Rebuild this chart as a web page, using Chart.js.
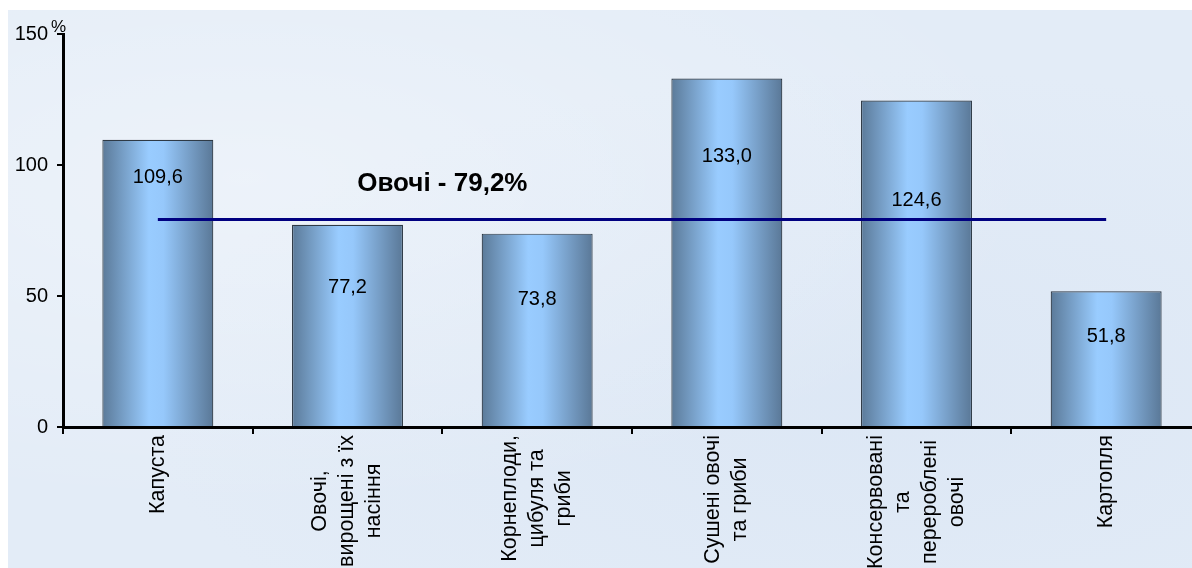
<!DOCTYPE html>
<html>
<head>
<meta charset="utf-8">
<script src="https://cdn.jsdelivr.net/npm/chart.js@4/dist/chart.umd.min.js"></script>
<style>
  html, body { margin:0; padding:0; background:#ffffff; overflow:hidden; width:1192px; height:568px; }
  #bg { position:absolute; left:8px; top:10px; width:1184px; height:558px;
        background:
          radial-gradient(ellipse at 20% 30%, rgba(255,255,255,0.35), rgba(255,255,255,0) 60%),
          radial-gradient(ellipse at 75% 70%, rgba(205,220,240,0.3), rgba(205,220,240,0) 60%),
          #e3ecf7; }
  #wrap { position:absolute; left:0; top:0; width:1201px; height:568px; }
</style>
</head>
<body>
<div id="bg"></div>
<div id="wrap"><canvas id="c"></canvas></div>
<script>
// ---- data ----
const categories = [
  ["Капуста"],
  ["Овочі,", "вирощені з їх", "насіння"],
  ["Корнеплоди,", "цибуля та", "гриби"],
  ["Сушені овочі", "та гриби"],
  ["Консервовані", "та", "перероблені", "овочі"],
  ["Картопля"]
];
const values = [109.6, 77.2, 73.8, 133.0, 124.6, 51.8];
const valueLabels = ["109,6", "77,2", "73,8", "133,0", "124,6", "51,8"];
const averageLine = [79.2, 79.2, 79.2, 79.2, 79.2, 79.2];
const averageLabel = "Овочі - 79,2%";
const yTicks = [0, 50, 100, 150];
const yUnit = "%";

const FONT = "'Liberation Sans', Arial, sans-serif";
const BAR_PCT = 0.585;

const barGradient = (ctx) => {
  const chart = ctx.chart;
  const xs = chart.scales && chart.scales.x;
  if (!xs || !chart.chartArea || ctx.type !== 'data') return '#8fb6dc';
  const cx = xs.getPixelForValue(ctx.dataIndex);
  const catW = xs.getPixelForValue(1) - xs.getPixelForValue(0);
  const w = catW * BAR_PCT;
  if (!isFinite(cx) || !isFinite(w) || w <= 0) return '#8fb6dc';
  const g = chart.ctx.createLinearGradient(cx - w / 2, 0, cx + w / 2, 0);
  g.addColorStop(0.0, '#5b7a99');
  g.addColorStop(0.42, '#99ccff');
  g.addColorStop(0.55, '#96c8fb');
  g.addColorStop(1.0, '#5a7897');
  return g;
};

const decorPlugin = {
  id: 'decor',
  afterDatasetsDraw(chart, args, opts) {
    const ctx = chart.ctx;
    const xs = chart.scales.x, ys = chart.scales.y;
    const area = chart.chartArea;
    ctx.save();
    ctx.fillStyle = '#000';
    ctx.font = '20px ' + FONT;
    ctx.textAlign = 'center';
    ctx.textBaseline = 'middle';
    valueLabels.forEach((t, i) => {
      ctx.fillText(t, xs.getPixelForValue(i), ys.getPixelForValue(opts.labelAt[i]));
    });
    ctx.font = 'bold 26px ' + FONT;
    const ax = (xs.getPixelForValue(opts.noteBetween[0]) + xs.getPixelForValue(opts.noteBetween[1])) / 2;
    ctx.fillText(averageLabel, ax, ys.getPixelForValue(opts.noteAt));
    ctx.font = '17px ' + FONT;
    ctx.textAlign = 'left';
    ctx.fillText(yUnit, area.left - 12, ys.getPixelForValue(150) - 7);
    ctx.font = '21.5px ' + FONT;
    ctx.textAlign = 'center';
    const lh = 27;
    categories.forEach((lines, i) => {
      const x = xs.getPixelForValue(i);
      const y0 = area.bottom + 8;
      const maxW = Math.max(...lines.map(l => ctx.measureText(l).width));
      ctx.save();
      ctx.translate(x, y0);
      ctx.rotate(-Math.PI / 2);
      lines.forEach((l, j) => {
        ctx.fillText(l, -maxW / 2, (j - (lines.length - 1) / 2) * lh);
      });
      ctx.restore();
    });
    ctx.restore();
  }
};

new Chart(document.getElementById('c'), {
  data: {
    labels: categories.map(c => c.join(' ')),
    datasets: [
      {
        type: 'line',
        data: averageLine,
        borderColor: '#000080',
        borderWidth: 3,
        pointRadius: 0,
        fill: false,
        order: 0
      },
      {
        type: 'bar',
        data: values,
        backgroundColor: barGradient,
        borderColor: '#2e3a46',
        borderWidth: 1.2,
        categoryPercentage: 1,
        barPercentage: BAR_PCT,
        order: 1
      }
    ]
  },
  options: {
    responsive: true,
    maintainAspectRatio: false,
    animation: false,
    layout: { padding: { top: 34, right: 0, bottom: 0, left: 0 } },
    plugins: {
      legend: { display: false },
      tooltip: { enabled: false },
      decor: {
        labelAt: [95.2, 53.4, 48.5, 103.1, 86.5, 34.4],
        noteBetween: [1, 2],
        noteAt: 92.7
      }
    },
    scales: {
      x: {
        offset: true,
        ticks: { display: false },
        grid: { display: true, offset: true, drawOnChartArea: false, drawTicks: true, tickLength: 7, color: '#000', lineWidth: 2 },
        border: { display: true, color: '#000', width: 3 },
        afterFit(s) { s.height = 141; }
      },
      y: {
        min: 0, max: 150,
        afterBuildTicks(s) { s.ticks = yTicks.map(v => ({ value: v })); },
        ticks: { color: '#000', font: { size: 20, family: FONT }, padding: 9 },
        grid: { display: true, drawOnChartArea: false, drawTicks: true, tickLength: 6, color: '#000', lineWidth: 2 },
        border: { display: true, color: '#000', width: 3 },
        afterFit(s) { s.width = 63; }
      }
    }
  },
  plugins: [decorPlugin]
});
</script>
</body>
</html>
